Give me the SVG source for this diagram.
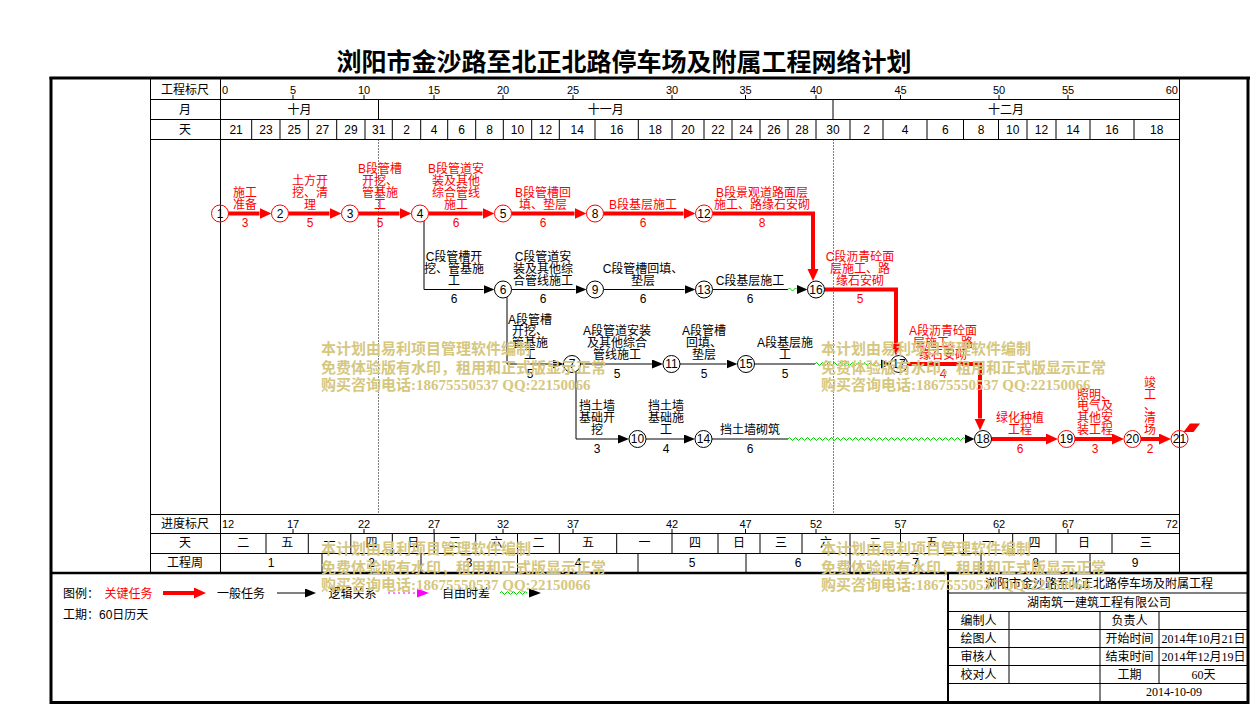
<svg xmlns="http://www.w3.org/2000/svg" width="1253" height="708" viewBox="0 0 1253 708">
<style>
text{font-family:"Liberation Sans","Noto Sans CJK SC",sans-serif;font-size:12px;fill:#000}
.c{text-anchor:middle}
.e{text-anchor:end}
.r{fill:#f00}
.sc{font-size:11px}
.ln{stroke:#000;stroke-width:1;fill:none}
.crit{stroke:#f00;stroke-width:4;fill:none;marker-end:url(#ar)}
.norm{stroke:#000;stroke-width:1;fill:none;marker-end:url(#ab)}
.plain{stroke:#000;stroke-width:1;fill:none}
.wave{stroke:#00d000;stroke-width:1;fill:none}
.dot{stroke:#000;stroke-width:1;stroke-dasharray:1,2;fill:none}
.nd circle{fill:#fff;stroke:#000;stroke-width:1}
.nd.k circle{stroke:#f00}
.nd text{text-anchor:middle}
.wm text{font-family:"Liberation Serif","Noto Sans CJK SC",serif;font-size:15px;font-weight:bold;fill:#d6c77f}
</style>
<defs>
<marker id="ar" markerUnits="userSpaceOnUse" markerWidth="13" markerHeight="12" refX="0" refY="5.5" orient="auto"><path d="M0,0 L12,5.5 L0,11 z" fill="#f00"/></marker>
<marker id="ab" markerUnits="userSpaceOnUse" markerWidth="12" markerHeight="10" refX="0" refY="4.5" orient="auto"><path d="M0,0 L11,4.5 L0,9 z" fill="#000"/></marker>
</defs>
<rect width="1253" height="708" fill="#fff"/>

<text x="624" y="71" class="c" style="font-size:25px;font-weight:bold;font-family:'Noto Sans CJK SC',sans-serif">浏阳市金沙路至北正北路停车场及附属工程网络计划</text>

<g id="grid">
<path class="ln" d="M150.5,78 V573 M220.5,78 V573 M1179.5,78 V573 M150,99.5 H1180 M150,119.5 H1180 M150,139.5 H1180 M150,514.5 H1180 M150,533.5 H1180 M150,553.5 H1180"/>
<path class="ln" d="M378.5,99.5 V119.5 M833,99.5 V119.5"/>
<path class="ln" d="M251.7,119.5V139.5 M280,119.5V139.5 M308.3,119.5V139.5 M336.7,119.5V139.5 M365,119.5V139.5 M392.3,119.5V139.5 M420.7,119.5V139.5 M447.7,119.5V139.5 M475.7,119.5V139.5 M503.3,119.5V139.5 M531.7,119.5V139.5 M559.3,119.5V139.5 M595,119.5V139.5 M638.3,119.5V139.5 M672,119.5V139.5 M704,119.5V139.5 M732,119.5V139.5 M760,119.5V139.5 M788,119.5V139.5 M816,119.5V139.5 M850,119.5V139.5 M883,119.5V139.5 M927,119.5V139.5 M963.5,119.5V139.5 M998.5,119.5V139.5 M1027,119.5V139.5 M1056,119.5V139.5 M1090,119.5V139.5 M1134,119.5V139.5"/>
<path class="ln" d="M293,95V99.5 M364,95V99.5 M434,95V99.5 M503,95V99.5 M573,95V99.5 M672,95V99.5 M745.5,95V99.5 M816,95V99.5 M900.5,95V99.5 M999,95V99.5 M1068,95V99.5"/>
<path class="ln" d="M293,529V533.5 M364,529V533.5 M434,529V533.5 M503,529V533.5 M573,529V533.5 M672,529V533.5 M745.5,529V533.5 M816,529V533.5 M900.5,529V533.5 M999,529V533.5 M1068,529V533.5"/>
<path class="ln" d="M266,533.5V553.5 M308.3,533.5V553.5 M350.8,533.5V553.5 M392.3,533.5V553.5 M434.2,533.5V553.5 M475.7,533.5V553.5 M517.5,533.5V553.5 M559.3,533.5V553.5 M616.7,533.5V553.5 M672,533.5V553.5 M718,533.5V553.5 M760,533.5V553.5 M802,533.5V553.5 M850,533.5V553.5 M900.5,533.5V553.5 M963.5,533.5V553.5 M1012.7,533.5V553.5 M1056,533.5V553.5 M1112,533.5V553.5"/>
<path class="ln" d="M322,553.5V573 M421,553.5V573 M517.5,553.5V573 M638,553.5V573 M746,553.5V573 M850,553.5V573 M981,553.5V573 M1090,553.5V573"/>
<path class="dot" d="M378.5,139.5 V514.5 M833.5,139.5 V514.5"/>
<path d="M49.5,78 H1250" stroke="#000" stroke-width="3"/>
<path d="M51,77 V704 M1248,77 V704 M49.5,702.5 H1249.5" stroke="#000" stroke-width="3" fill="none"/>
<path d="M50,573 H1249" stroke="#000" stroke-width="2.5"/>
</g>

<g id="scale-text">
<text class="c" x="185" y="93.5">工程标尺</text>
<text class="c" x="185" y="113.5">月</text>
<text class="c" x="185" y="133.5">天</text>
<text class="c" x="185" y="527.5">进度标尺</text>
<text class="c" x="185" y="547">天</text>
<text class="c" x="185" y="566.5">工程周</text>
<g class="sc">
<text x="222" y="94" class="sc">0</text>
<text class="c sc" x="293" y="94">5</text><text class="c sc" x="364" y="94">10</text><text class="c sc" x="434" y="94">15</text><text class="c sc" x="503" y="94">20</text><text class="c sc" x="573" y="94">25</text><text class="c sc" x="672" y="94">30</text><text class="c sc" x="745.5" y="94">35</text><text class="c sc" x="816" y="94">40</text><text class="c sc" x="900.5" y="94">45</text><text class="c sc" x="999" y="94">50</text><text class="c sc" x="1068" y="94">55</text>
<text class="e sc" x="1178" y="94">60</text>
<text x="222" y="528" class="sc">12</text>
<text class="c sc" x="293" y="528">17</text><text class="c sc" x="364" y="528">22</text><text class="c sc" x="434" y="528">27</text><text class="c sc" x="503" y="528">32</text><text class="c sc" x="573" y="528">37</text><text class="c sc" x="672" y="528">42</text><text class="c sc" x="745.5" y="528">47</text><text class="c sc" x="816" y="528">52</text><text class="c sc" x="900.5" y="528">57</text><text class="c sc" x="999" y="528">62</text><text class="c sc" x="1068" y="528">67</text>
<text class="e sc" x="1178" y="528">72</text>
</g>
<text class="c" x="299.5" y="113.5">十月</text>
<text class="c" x="605.7" y="113.5">十一月</text>
<text class="c" x="1006" y="113.5">十二月</text>
<g class="sc">
<text class="c" x="236.1" y="133.5">21</text><text class="c" x="265.9" y="133.5">23</text><text class="c" x="294.2" y="133.5">25</text><text class="c" x="322.5" y="133.5">27</text><text class="c" x="350.9" y="133.5">29</text><text class="c" x="378.7" y="133.5">31</text><text class="c" x="406.5" y="133.5">2</text><text class="c" x="434.2" y="133.5">4</text><text class="c" x="461.7" y="133.5">6</text><text class="c" x="489.5" y="133.5">8</text><text class="c" x="517.5" y="133.5">10</text><text class="c" x="545.5" y="133.5">12</text><text class="c" x="577.2" y="133.5">14</text><text class="c" x="616.7" y="133.5">16</text><text class="c" x="655.2" y="133.5">18</text><text class="c" x="688" y="133.5">20</text><text class="c" x="718" y="133.5">22</text><text class="c" x="746" y="133.5">24</text><text class="c" x="774" y="133.5">26</text><text class="c" x="802" y="133.5">28</text><text class="c" x="833" y="133.5">30</text><text class="c" x="866.5" y="133.5">2</text><text class="c" x="905" y="133.5">4</text><text class="c" x="945.3" y="133.5">6</text><text class="c" x="981" y="133.5">8</text><text class="c" x="1012.8" y="133.5">10</text><text class="c" x="1041.5" y="133.5">12</text><text class="c" x="1073" y="133.5">14</text><text class="c" x="1112" y="133.5">16</text><text class="c" x="1156.8" y="133.5">18</text>
</g>
<text class="c" x="243.3" y="547">二</text><text class="c" x="287.2" y="547">五</text><text class="c" x="329.6" y="547">一</text><text class="c" x="371.6" y="547">四</text><text class="c" x="413.3" y="547">日</text><text class="c" x="455" y="547">三</text><text class="c" x="496.6" y="547">六</text><text class="c" x="538.4" y="547">二</text><text class="c" x="588" y="547">五</text><text class="c" x="644.4" y="547">一</text><text class="c" x="695" y="547">四</text><text class="c" x="739" y="547">日</text><text class="c" x="781" y="547">三</text><text class="c" x="826" y="547">六</text><text class="c" x="875.3" y="547">二</text><text class="c" x="932" y="547">五</text><text class="c" x="988.1" y="547">一</text><text class="c" x="1034.4" y="547">四</text><text class="c" x="1084" y="547">日</text><text class="c" x="1145.8" y="547">三</text>
<g class="sc">
<text class="c" x="271" y="566.5">1</text><text class="c" x="371.5" y="566.5">2</text><text class="c" x="469" y="566.5">3</text><text class="c" x="578" y="566.5">4</text><text class="c" x="692" y="566.5">5</text><text class="c" x="798" y="566.5">6</text><text class="c" x="915.5" y="566.5">7</text><text class="c" x="1035.5" y="566.5">8</text><text class="c" x="1135" y="566.5">9</text>
</g>
</g>

<g id="connectors">
<path class="crit" d="M228.5,213.5 H259.5"/>
<path class="crit" d="M288.5,213.5 H329.5"/>
<path class="crit" d="M358.5,213.5 H399.5"/>
<path class="crit" d="M428.5,213.5 H482.5"/>
<path class="crit" d="M511.5,213.5 H574.5"/>
<path class="crit" d="M603.5,213.5 H683.5"/>
<path class="crit" d="M712.5,213.5 H813 V269"/>
<path class="crit" d="M824.5,289.5 H896 V343.5"/>
<path class="crit" d="M907.5,364 H980 V418.5"/>
<path class="crit" d="M991.5,439 H1046"/>
<path class="crit" d="M1075,439 H1112"/>
<path class="crit" d="M1141,439 H1159"/>
<path class="norm" d="M424,221 V289.5 H483.5"/>
<path class="norm" d="M511.5,289.5 H575.5"/>
<path class="norm" d="M603.5,289.5 H684.5"/>
<path class="plain" d="M712.5,289.5 H788"/>
<path class="wave" d="M788,289.5 q1.5,-3 3,0 t3,0 t3,0"/>
<polygon points="797,285 807.5,289.5 797,294" fill="#000"/>
<path class="norm" d="M507,297 V364 H552.5"/>
<path class="norm" d="M580.5,364 H652"/>
<path class="norm" d="M680,364 H726.5"/>
<path class="plain" d="M754.5,364 H815"/>
<path class="wave" d="M815,364 q1.5,-3 3,0 t3,0 t3,0 t3,0 t3,0 t3,0 t3,0 t3,0 t3,0 t3,0 t3,0 t3,0 t3,0 t3,0 t3,0 t3,0 t3,0 t3,0 t3,0 t3,0 t3,0 t3,0"/>
<polygon points="881,359.5 890.5,364 881,368.5" fill="#000"/>
<path class="norm" d="M576,371.5 V439 H618"/>
<path class="norm" d="M646,439 H684"/>
<path class="plain" d="M712,439 H788"/>
<path class="wave" d="M788,439 q1.5,-3 3,0 t3,0 t3,0 t3,0 t3,0 t3,0 t3,0 t3,0 t3,0 t3,0 t3,0 t3,0 t3,0 t3,0 t3,0 t3,0 t3,0 t3,0 t3,0 t3,0 t3,0 t3,0 t3,0 t3,0 t3,0 t3,0 t3,0 t3,0 t3,0 t3,0 t3,0 t3,0 t3,0 t3,0 t3,0 t3,0 t3,0 t3,0 t3,0 t3,0 t3,0 t3,0 t3,0 t3,0 t3,0 t3,0 t3,0 t3,0 t3,0 t3,0 t3,0 t3,0 t3,0 t3,0 t3,0 t3,0 t3,0 t3,0 t3,0"/>
<polygon points="965,434.5 974.5,439 965,443.5" fill="#000"/>
<polygon points="1183.5,432 1190,423.5 1200,423.5 1193.5,432" fill="#f00"/>
</g>

<g id="labels">
<text class="c r" x="245" y="196.7"><tspan x="245">施工</tspan><tspan x="245" dy="11.8">准备</tspan></text>
<text class="c r" x="245" y="227">3</text>
<text class="c r" x="310" y="184.9"><tspan x="310">土方开</tspan><tspan x="310" dy="11.8">挖、清</tspan><tspan x="310" dy="11.8">理</tspan></text>
<text class="c r" x="310" y="227">5</text>
<text class="c r" x="380" y="173.1"><tspan x="380">B段管槽</tspan><tspan x="380" dy="11.8">开挖、</tspan><tspan x="380" dy="11.8">管基施</tspan><tspan x="380" dy="11.8">工</tspan></text>
<text class="c r" x="380" y="227">5</text>
<text class="c r" x="456" y="173.1"><tspan x="456">B段管道安</tspan><tspan x="456" dy="11.8">装及其他</tspan><tspan x="456" dy="11.8">综合管线</tspan><tspan x="456" dy="11.8">施工</tspan></text>
<text class="c r" x="456" y="227">6</text>
<text class="c r" x="543" y="196.7"><tspan x="543">B段管槽回</tspan><tspan x="543" dy="11.8">填、垫层</tspan></text>
<text class="c r" x="543" y="227">6</text>
<text class="c r" x="643" y="208.5">B段基层施工</text>
<text class="c r" x="643" y="227">6</text>
<text class="c r" x="762" y="196.7"><tspan x="762">B段景观道路面层</tspan><tspan x="762" dy="11.8">施工、路缘石安砌</tspan></text>
<text class="c r" x="762" y="227">8</text>

<text class="c" x="454" y="260.9"><tspan x="454">C段管槽开</tspan><tspan x="454" dy="11.8">挖、管基施</tspan><tspan x="454" dy="11.8">工</tspan></text>
<text class="c" x="454" y="303">6</text>
<text class="c" x="543" y="260.9"><tspan x="543">C段管道安</tspan><tspan x="543" dy="11.8">装及其他综</tspan><tspan x="543" dy="11.8">合管线施工</tspan></text>
<text class="c" x="543" y="303">6</text>
<text class="c" x="643" y="272.7"><tspan x="643">C段管槽回填、</tspan><tspan x="643" dy="11.8">垫层</tspan></text>
<text class="c" x="643" y="303">6</text>
<text class="c" x="750" y="284.5">C段基层施工</text>
<text class="c" x="750" y="303">6</text>
<text class="c r" x="860" y="260.9"><tspan x="860">C段沥青砼面</tspan><tspan x="860" dy="11.8">层施工、路</tspan><tspan x="860" dy="11.8">缘石安砌</tspan></text>
<text class="c r" x="860" y="303">5</text>

<text class="c" x="530" y="323.6"><tspan x="530">A段管槽</tspan><tspan x="530" dy="11.8">开挖、</tspan><tspan x="530" dy="11.8">管基施</tspan><tspan x="530" dy="11.8">工</tspan></text>
<text class="c" x="530" y="377.5">5</text>
<text class="c" x="617" y="335.4"><tspan x="617">A段管道安装</tspan><tspan x="617" dy="11.8">及其他综合</tspan><tspan x="617" dy="11.8">管线施工</tspan></text>
<text class="c" x="617" y="377.5">5</text>
<text class="c" x="704" y="335.4"><tspan x="704">A段管槽</tspan><tspan x="704" dy="11.8">回填、</tspan><tspan x="704" dy="11.8">垫层</tspan></text>
<text class="c" x="704" y="377.5">5</text>
<text class="c" x="785" y="347.2"><tspan x="785">A段基层施</tspan><tspan x="785" dy="11.8">工</tspan></text>
<text class="c" x="785" y="377.5">5</text>
<text class="c r" x="943" y="335.4"><tspan x="943">A段沥青砼面</tspan><tspan x="943" dy="11.8">层施工、路</tspan><tspan x="943" dy="11.8">缘石安砌</tspan></text>
<text class="c r" x="943" y="377.5">4</text>

<text class="c" x="597" y="410.4"><tspan x="597">挡土墙</tspan><tspan x="597" dy="11.8">基础开</tspan><tspan x="597" dy="11.8">挖</tspan></text>
<text class="c" x="597" y="452.5">3</text>
<text class="c" x="666" y="410.4"><tspan x="666">挡土墙</tspan><tspan x="666" dy="11.8">基础施</tspan><tspan x="666" dy="11.8">工</tspan></text>
<text class="c" x="666" y="452.5">4</text>
<text class="c" x="750" y="434">挡土墙砌筑</text>
<text class="c" x="750" y="452.5">6</text>
<text class="c r" x="1020" y="422.2"><tspan x="1020">绿化种植</tspan><tspan x="1020" dy="11.8">工程</tspan></text>
<text class="c r" x="1020" y="452.5">6</text>
<text class="c r" x="1095" y="398.6"><tspan x="1095">照明、</tspan><tspan x="1095" dy="11.8">电气及</tspan><tspan x="1095" dy="11.8">其他安</tspan><tspan x="1095" dy="11.8">装工程</tspan></text>
<text class="c r" x="1095" y="452.5">3</text>
<text class="c r" x="1150" y="386.8"><tspan x="1150">竣</tspan><tspan x="1150" dy="11.8">工</tspan><tspan x="1150" dy="11.8">、</tspan><tspan x="1150" dy="11.8">清</tspan><tspan x="1150" dy="11.8">场</tspan></text>
<text class="c r" x="1150" y="452.5">2</text>
</g>

<g id="n1" class="nd k"><circle cx="220" cy="213.5" r="8.5" style="fill:none"/><text x="220" y="217.8">1</text></g>
<g id="n2" class="nd k"><circle cx="280" cy="213.5" r="8.5"/><text x="280" y="217.8">2</text></g>
<g id="n3" class="nd k"><circle cx="350" cy="213.5" r="8.5"/><text x="350" y="217.8">3</text></g>
<g id="n4" class="nd k"><circle cx="420" cy="213.5" r="8.5"/><text x="420" y="217.8">4</text></g>
<g id="n5" class="nd k"><circle cx="503" cy="213.5" r="8.5"/><text x="503" y="217.8">5</text></g>
<g id="n8" class="nd k"><circle cx="595" cy="213.5" r="8.5"/><text x="595" y="217.8">8</text></g>
<g id="n12" class="nd k"><circle cx="704" cy="213.5" r="8.5"/><text x="704" y="217.8">12</text></g>
<g id="n6" class="nd"><circle cx="503" cy="289.5" r="8.5"/><text x="503" y="293.8">6</text></g>
<g id="n9" class="nd"><circle cx="595" cy="289.5" r="8.5"/><text x="595" y="293.8">9</text></g>
<g id="n13" class="nd"><circle cx="704" cy="289.5" r="8.5"/><text x="704" y="293.8">13</text></g>
<g id="n16" class="nd"><circle cx="816" cy="289.5" r="8.5"/><text x="816" y="293.8">16</text></g>
<g id="n7" class="nd"><circle cx="572" cy="364" r="8.5"/><text x="572" y="368.3">7</text></g>
<g id="n11" class="nd"><circle cx="671.5" cy="364" r="8.5"/><text x="671.5" y="368.3">11</text></g>
<g id="n15" class="nd"><circle cx="746" cy="364" r="8.5"/><text x="746" y="368.3">15</text></g>
<g id="n17" class="nd"><circle cx="899" cy="364" r="8.5"/><text x="899" y="368.3">17</text></g>
<g id="n10" class="nd"><circle cx="637.5" cy="439" r="8.5"/><text x="637.5" y="443.3">10</text></g>
<g id="n14" class="nd"><circle cx="703.5" cy="439" r="8.5"/><text x="703.5" y="443.3">14</text></g>
<g id="n18" class="nd"><circle cx="983" cy="439" r="8.5"/><text x="983" y="443.3">18</text></g>
<g id="n19" class="nd k"><circle cx="1066.5" cy="439" r="8.5"/><text x="1066.5" y="443.3">19</text></g>
<g id="n20" class="nd k"><circle cx="1132.5" cy="439" r="8.5"/><text x="1132.5" y="443.3">20</text></g>
<g id="n21" class="nd k"><circle cx="1179.5" cy="439" r="8.5" style="fill:none"/><text x="1179.5" y="443.3">21</text></g>

<g id="legend">
<text x="63" y="597.5">图例：</text>
<text x="104.5" y="597.5" class="r">关键任务</text>
<path class="crit" d="M163,593 H194"/>
<text x="217" y="597.5">一般任务</text>
<path class="norm" d="M277,593 H305"/>
<text x="328.5" y="597.5">逻辑关系</text>
<path d="M388,593 H417" stroke="#f0f" stroke-width="1" stroke-dasharray="2,3"/>
<polygon points="417,588.5 429,593 417,597.5" fill="#f0f"/>
<text x="442" y="597.5">自由时差</text>
<path class="wave" d="M500,593 q1.5,-3 3,0 t3,0 t3,0 t3,0 t3,0 t3,0 t3,0 t3,0 t3,0"/>
<polygon points="529,588.5 541,593 529,597.5" fill="#000"/>
<text x="63" y="618.5">工期：60日历天</text>
</g>

<g id="titleblock">
<path d="M948,573 V703" stroke="#000" stroke-width="2"/>
<path class="ln" d="M948,593 H1248 M948,611.5 H1248 M948,629.5 H1248 M948,647.5 H1248 M948,665.5 H1248 M948,683.5 H1248 M1009,611.5 V683.5 M1100,611.5 V702 M1159,611.5 V683.5"/>
<text class="c" x="1099" y="587.5">浏阳市金沙路至北正北路停车场及附属工程</text>
<text class="c" x="1099" y="606.5">湖南筑一建筑工程有限公司</text>
<text class="c" x="978.5" y="624.5">编制人</text>
<text class="c" x="978.5" y="642.8">绘图人</text>
<text class="c" x="978.5" y="660.8">审核人</text>
<text class="c" x="978.5" y="678.8">校对人</text>
<text class="c" x="1129.5" y="624.5">负责人</text>
<text class="c" x="1129.5" y="642.8">开始时间</text>
<text class="c" x="1129.5" y="660.8">结束时间</text>
<text class="c" x="1129.5" y="678.8">工期</text>
<text class="c" x="1203.5" y="642.8" style="font-family:'Liberation Serif','Noto Sans CJK SC',serif">2014年10月21日</text>
<text class="c" x="1203.5" y="660.8" style="font-family:'Liberation Serif','Noto Sans CJK SC',serif">2014年12月19日</text>
<text class="c" x="1203.5" y="678.8" style="font-family:'Liberation Serif','Noto Sans CJK SC',serif">60天</text>
<text class="c" x="1174" y="696" style="font-family:'Liberation Serif',serif">2014-10-09</text>
</g>

<g id="watermark" class="wm">
<text x="321" y="354">本计划由易利项目管理软件编制</text>
<text x="321" y="372.5">免费体验版有水印，租用和正式版显示正常</text>
<text x="321" y="389.5">购买咨询电话:18675550537 QQ:22150066</text>
<text x="821" y="354">本计划由易利项目管理软件编制</text>
<text x="821" y="372.5">免费体验版有水印，租用和正式版显示正常</text>
<text x="821" y="389.5">购买咨询电话:18675550537 QQ:22150066</text>
<text x="321" y="554">本计划由易利项目管理软件编制</text>
<text x="321" y="572.5">免费体验版有水印，租用和正式版显示正常</text>
<text x="321" y="589.5">购买咨询电话:18675550537 QQ:22150066</text>
<text x="821" y="554">本计划由易利项目管理软件编制</text>
<text x="821" y="572.5">免费体验版有水印，租用和正式版显示正常</text>
<text x="821" y="589.5">购买咨询电话:18675550537 QQ:22150066</text>
</g>
</svg>
